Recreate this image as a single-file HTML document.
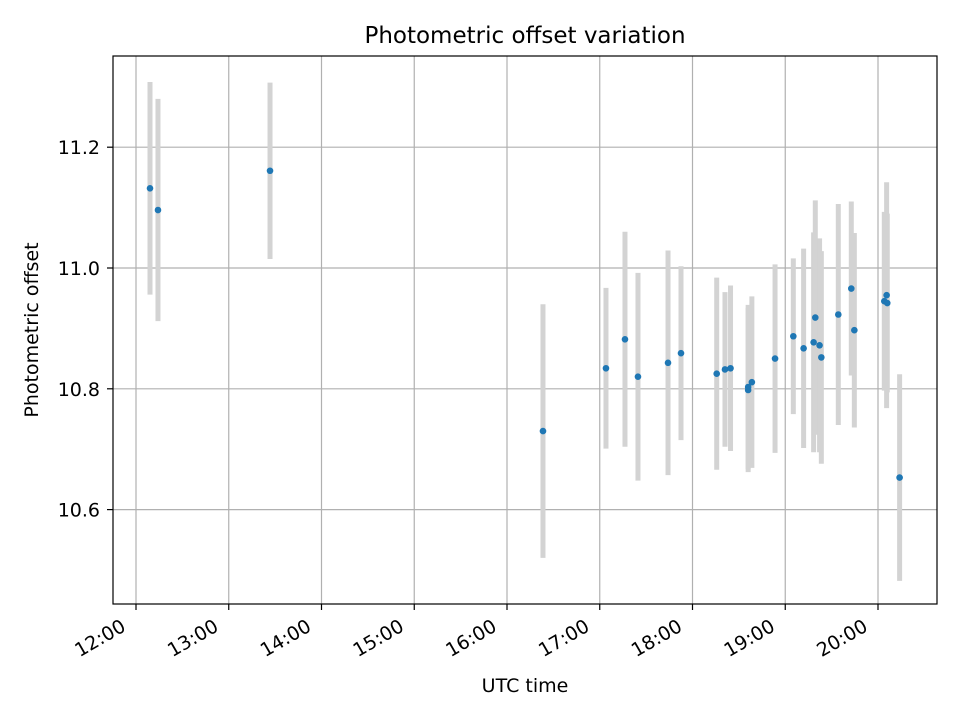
<!DOCTYPE html>
<html><head><meta charset="utf-8"><style>
body{margin:0;background:#fff;}
svg text{font-family:"DejaVu Sans","Liberation Sans",sans-serif;fill:#000;}
</style></head><body>
<svg id="chart" width="960" height="720" xmlns="http://www.w3.org/2000/svg">
<rect width="960" height="720" fill="#fff"/>
<text x="525" y="43" font-size="23" text-anchor="middle">Photometric offset variation</text>
<g id="grid"></g>
<g id="bars"></g>
<g id="pts"></g>
<rect x="113" y="56" width="824" height="548" fill="none" stroke="#000" stroke-width="1.2"/>
<g id="xt"></g>
<g id="yt"></g>
<text x="525" y="692" font-size="19" text-anchor="middle">UTC time</text>
<text transform="translate(38,330) rotate(-90)" font-size="19" text-anchor="middle">Photometric offset</text>
</svg>
<script>
const times=[12.151,12.237,13.445,16.388,17.067,17.272,17.412,17.736,17.876,18.261,18.35,18.41,18.60,18.64,18.60,18.89,19.087,19.198,19.306,19.324,19.37,19.389,19.572,19.712,19.745,20.093,20.068,20.10,20.233];
const values=[11.132,11.096,11.161,10.730,10.834,10.882,10.820,10.843,10.859,10.825,10.832,10.834,10.803,10.811,10.798,10.850,10.887,10.867,10.877,10.918,10.872,10.852,10.923,10.966,10.897,10.955,10.945,10.942,10.653];
const errors=[0.176,0.184,0.146,0.21,0.133,0.178,0.172,0.186,0.144,0.159,0.128,0.137,0.136,0.142,0.136,0.156,0.129,0.165,0.182,0.194,0.177,0.176,0.183,0.144,0.161,0.187,0.148,0.148,0.171];
const xTicks=[12,13,14,15,16,17,18,19,20];
const xTickLabels=["12:00","13:00","14:00","15:00","16:00","17:00","18:00","19:00","20:00"];
const yTicks=[10.6,10.8,11.0,11.2];
const yTickLabels=["10.6","10.8","11.0","11.2"];
const NS="http://www.w3.org/2000/svg";
const xs=t=>136+(t-12)*92.75;
const ys=v=>268-(v-11.0)*604;
function mk(tag,attrs,parent){const e=document.createElementNS(NS,tag);for(const k in attrs)e.setAttribute(k,attrs[k]);document.getElementById(parent).appendChild(e);return e;}
xTicks.forEach((t,i)=>{
  const x=xs(t);
  const g=mk('line',{x1:x,x2:x,y1:56,y2:604,stroke:'#b0b0b0','stroke-width':1.2},'grid');
  
  
  const tk=mk('line',{x1:x,x2:x,y1:604,y2:610,stroke:'#000','stroke-width':1.2},'xt');
  
  
  const tx=mk('text',{transform:`translate(${x-9},${630}) rotate(-30)`,'font-size':19,'text-anchor':'end'},'xt');
  tx.textContent=xTickLabels[i];
  
  
});
yTicks.forEach((v,i)=>{
  const y=ys(v);
  const g=mk('line',{x1:113,x2:937,y1:y,y2:y,stroke:'#b0b0b0','stroke-width':1.2},'grid');
  
  
  const tk=mk('line',{x1:107,x2:113,y1:y,y2:y,stroke:'#000','stroke-width':1.2},'yt');
  
  
  const tx=mk('text',{x:100,y:y+7,'font-size':19,'text-anchor':'end'},'yt');
  tx.textContent=yTickLabels[i];
  
  
});
times.forEach((t,i)=>{
  const x=xs(t);
  const b=mk('line',{x1:x,x2:x,y1:ys(values[i]+errors[i]),y2:ys(values[i]-errors[i]),stroke:'#d3d3d3','stroke-width':5},'bars');
  
  
});
times.forEach((t,i)=>{
  const c=mk('circle',{cx:xs(t),cy:ys(values[i]),r:3.3,fill:'#1f77b4'},'pts');
  
  
});
</script>
</body></html>
